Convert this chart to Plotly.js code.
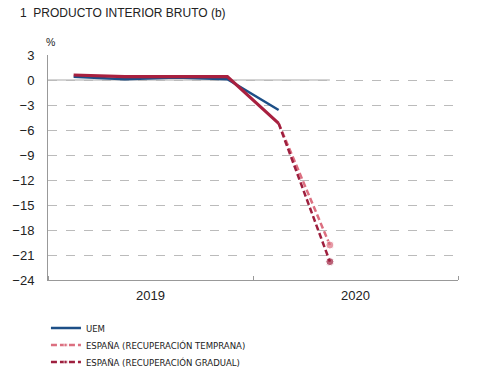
<!DOCTYPE html>
<html><head><meta charset="utf-8">
<script src="https://cdn.plot.ly/plotly-3.0.1.min.js"></script>
<style>body{margin:0;background:#fff}#c{width:480px;height:382px}</style>
</head><body><div id="c"></div>
<script>
const quarters = ['2019 T1','2019 T2','2019 T3','2019 T4','2020 T1','2020 T2','2020 T3','2020 T4'];
const qIndex = [1,2,3,4,5,6,7,8];
const uem = [0.4, 0.1, 0.3, 0.1, -3.6];
const espana = [0.6, 0.4, 0.4, 0.4, -5.2];
const espanaTemprana = [-5.2, -19.8];
const espanaGradual = [-5.2, -21.8];
const yearLabels = ['2019','2020'];
const yearPos = [2.5, 6.5];
const yTicks = [3,0,-3,-6,-9,-12,-15,-18,-21,-24];

const SANS = 'Liberation Sans, Arial, sans-serif';
const NARROW = 'DejaVu Sans Condensed, Liberation Sans Narrow, Liberation Sans, sans-serif';
const traces = [
  {x: qIndex.slice(0,5), y: uem, mode:'lines', name:'UEM', legend:'legend',
   line:{color:'#1d4f87', width:2.5}},
  {x: qIndex.slice(4,6), y: espanaTemprana, mode:'lines+markers', name:'ESPAÑA (RECUPERACIÓN TEMPRANA)', legend:'legend2',
   line:{color:'#dc6f80', width:2.5, dash:'6px,3px'}, marker:{color:'#dc6f80', size:[0,8]}},
  {x: qIndex.slice(4,6), y: espanaGradual, mode:'lines+markers', name:'ESPAÑA (RECUPERACIÓN GRADUAL)', legend:'legend3',
   line:{color:'#9e1f3e', width:2.5, dash:'6px,3px'}, marker:{color:'#9e1f3e', size:[0,8]}},
  {x: qIndex.slice(0,5), y: espana, mode:'lines', showlegend:false,
   line:{color:'#a8203f', width:3.2}}
];
function leg(ypix){
  return {x:-0.005, y:1-ypix/382, xref:'paper', yref:'container', xanchor:'left', yanchor:'middle',
          font:{family:NARROW, size:9.5, color:'#222'}, itemwidth:30, bgcolor:'rgba(0,0,0,0)'};
}
const layout = {
  width:480, height:382,
  margin:{l:48, r:22, t:55, b:102},
  paper_bgcolor:'#fff', plot_bgcolor:'#fff',
  font:{family:SANS, color:'#222', size:12},
  showlegend:true,
  legend:leg(328), legend2:leg(345), legend3:leg(362),
  xaxis:{range:[0.5,8.5], tickmode:'array', tickvals:yearPos, ticktext:yearLabels,
         ticks:'', showgrid:false, zeroline:false, showline:true, linecolor:'#999', linewidth:1,
         tickfont:{family:SANS, size:13, color:'#222'}, ticklabelstandoff:3,
         minor:{ticks:'inside', tick0:0.5, dtick:4, ticklen:4, tickcolor:'#999', showgrid:false}},
  yaxis:{range:[-24,3], tickmode:'array', tickvals:yTicks, ticks:'', showline:true,
         linecolor:'#999', linewidth:1, showgrid:true, gridcolor:'#bbb', griddash:'dash', gridwidth:1,
         zeroline:false, ticklabelstandoff:10, tickfont:{family:SANS, size:13, color:'#222'}},
  shapes:[{type:'line', xref:'x', yref:'y', x0:0.5, x1:6, y0:0, y1:0,
           line:{color:'#aaa', width:1.2}, layer:'below'}],
  annotations:[
    {text:'1  PRODUCTO INTERIOR BRUTO (b)', xref:'paper', yref:'paper', x:-0.073, y:(280-13)/225,
     xanchor:'left', yanchor:'middle', showarrow:false, font:{family:SANS, size:12, color:'#222'}},
    {text:'%', xref:'paper', yref:'paper', x:0.005, y:(280-42)/225, xanchor:'center', yanchor:'middle',
     showarrow:false, font:{family:SANS, size:10.5, color:'#222'}}
  ]
};
Plotly.newPlot('c', traces, layout, {displayModeBar:false, staticPlot:true});
</script></body></html>
